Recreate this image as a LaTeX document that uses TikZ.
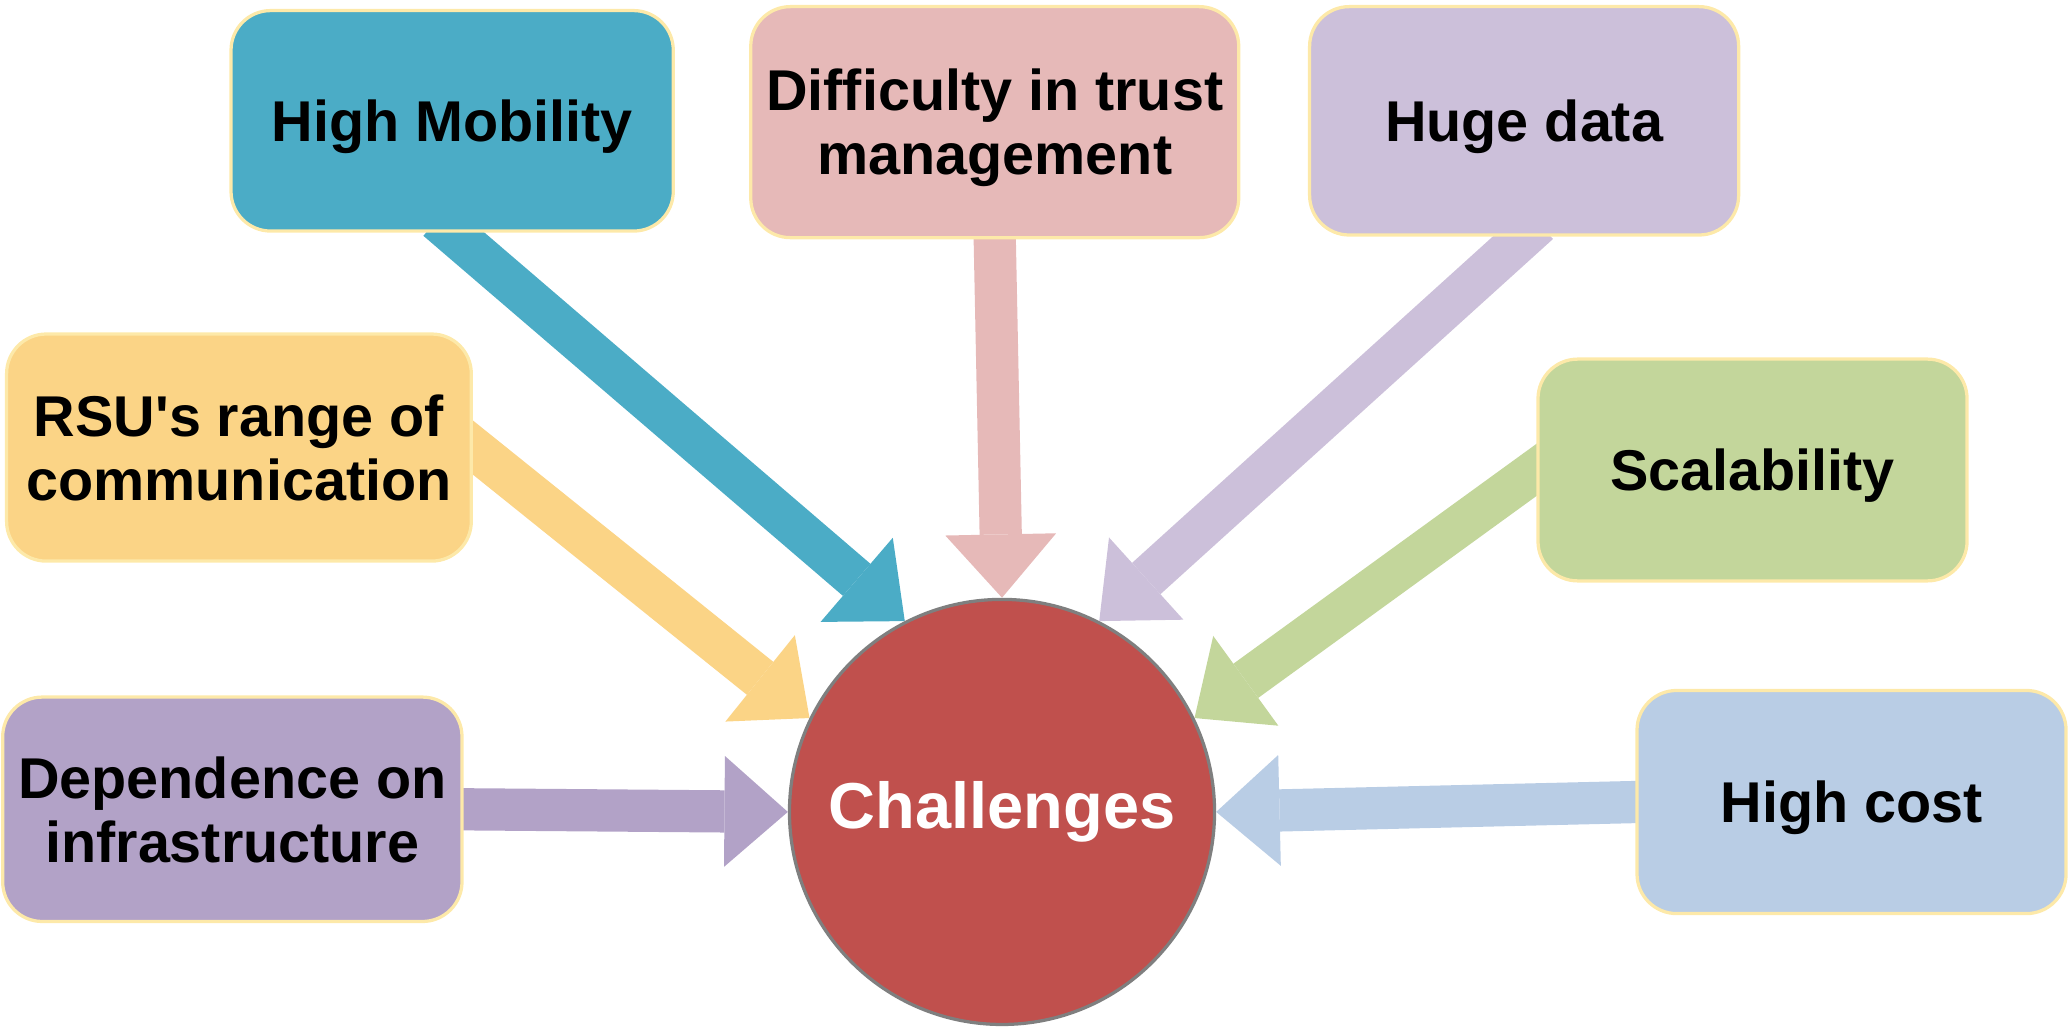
\documentclass[tikz,border=0pt]{standalone}
\usepackage{fontspec}
\setmainfont{Liberation Sans}
\usetikzlibrary{arrows.meta,backgrounds}
\definecolor{mobteal}{HTML}{4BACC6}
\definecolor{trustpink}{HTML}{E6B9B8}
\definecolor{datalilac}{HTML}{CCC0DA}
\definecolor{rsuyellow}{HTML}{FBD486}
\definecolor{scalegreen}{HTML}{C3D69B}
\definecolor{deppurple}{HTML}{B2A2C7}
\definecolor{costblue}{HTML}{B9CDE5}
\definecolor{chred}{HTML}{C0504D}
\definecolor{boxedge}{HTML}{FDE9A9}
\definecolor{rimgray}{HTML}{7F7F7F}
\begin{document}
\begin{tikzpicture}[
    cbox/.style={draw=boxedge, line width=0.7pt, rounded corners=0.3cm, align=center, text depth=0pt,
        font=\fontsize{12.4}{13.8}\selectfont\bfseries},
    bigarrow/.style={line width=0.32cm, -{Triangle[width=0.84cm,length=0.48cm,line width=0pt]}}]
    \useasboundingbox (0,0) rectangle (15.68,-7.81);
    % Boxes for each challenge
    \node[cbox, fill=mobteal, minimum width=3.35cm, minimum height=1.67cm] (hm) at (3.425,-0.915) {High Mobility};
    \node[cbox, fill=trustpink, minimum width=3.67cm, minimum height=1.75cm] (dt) at (7.535,-0.925) {Difficulty in trust\\management};
    \node[cbox, fill=datalilac, minimum width=3.25cm, minimum height=1.73cm] (hd) at (11.545,-0.915) {Huge data};
    \node[cbox, fill=rsuyellow, minimum width=3.52cm, minimum height=1.72cm] (rsu) at (1.81,-3.39) {RSU\textquotesingle s range of\\communication};
    \node[cbox, fill=scalegreen, minimum width=3.25cm, minimum height=1.68cm] (sc) at (13.275,-3.56) {Scalability};
    \node[cbox, fill=deppurple, minimum width=3.42cm, minimum height=1.70cm] (dep) at (1.76,-6.13) {Dependence on\\infrastructure};
    \node[cbox, fill=costblue, minimum width=3.25cm, minimum height=1.69cm] (hc) at (14.025,-6.075) {High cost};
    % Centre circle
    \node[circle, draw=rimgray, line width=0.7pt, fill=chred, minimum size=3.22cm, text=white,
        font=\fontsize{14}{16}\selectfont\bfseries] (ch) at (7.59,-6.15) {Challenges};
    % Arrows from the boxes into the circle
    \begin{scope}[on background layer]
        \foreach \n/\s/\a/\c in {hm/south/117/mobteal, dt/south/90/trustpink, hd/south/63/datalilac,
            rsu/east/154/rsuyellow, sc/west/26/scalegreen, dep/east/180/deppurple, hc/west/0/costblue} {
            \draw[bigarrow, color=\c, shorten <=-0.15cm] (\n.\s) -- (ch.\a);
        }
    \end{scope}
\end{tikzpicture}
\end{document}
